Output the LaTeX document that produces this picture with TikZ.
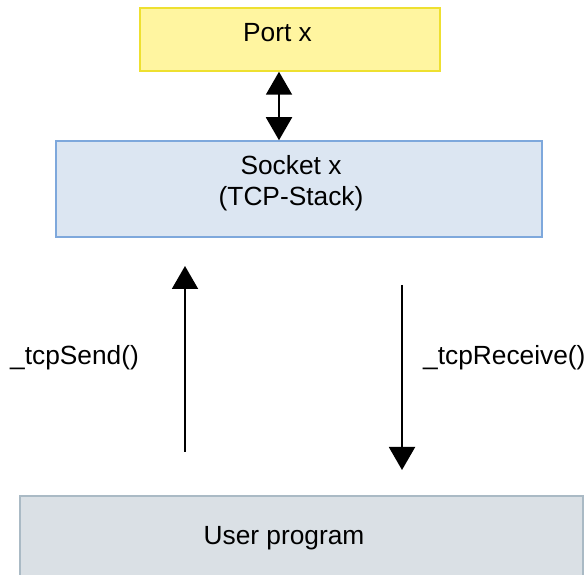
\documentclass[tikz,border=0pt]{standalone}
\usepackage{fontspec}
\setmainfont{Liberation Sans}
\usetikzlibrary{arrows.meta}
\definecolor{portfill}{HTML}{FFF5A0}
\definecolor{portline}{HTML}{EEE030}
\definecolor{sockfill}{HTML}{DCE6F2}
\definecolor{sockline}{HTML}{7EA8DC}
\definecolor{userfill}{HTML}{DAE0E5}
\definecolor{userline}{HTML}{AABAC5}
\begin{document}
\begin{tikzpicture}[x=1pt,y=1pt,
  font=\fontsize{26.3}{30}\selectfont,
  box/.style={draw, line width=1.5pt, inner sep=0pt},
  txt/.style={anchor=base, inner sep=0pt},
  flow/.style={line width=2pt, -{Triangle[width=26pt,length=23pt]}}]

\useasboundingbox (0,0) rectangle (587,575);

\node[box, fill=portfill, draw=portline, minimum width=300, minimum height=63] (port) at (290,535.5) {};
\node[txt] (porttext) at (277.5,533) {Port x};

\node[box, fill=sockfill, draw=sockline, minimum width=486, minimum height=96] (socket) at (299,386) {};
\node[txt] (sockettext) at (291,400) {Socket x};
\node[txt] (stacktext) at (291,369) {(TCP-Stack)};

\node[box, fill=userfill, draw=userline, minimum width=563, minimum height=100] (user) at (301.5,29) {};
\node[txt] (usertext) at (284,30) {User program};

\draw[flow, {Triangle[width=26pt,length=23pt]}-{Triangle[width=26pt,length=23pt]}] (port.south -| 279,0) -- (socket.north -| 279,0);

\coordinate (sendfrom) at (185,123);
\coordinate (sendto) at (185,309);
\coordinate (recvfrom) at (402,290);
\coordinate (recvto) at (402,105);

\draw[flow] (sendfrom) -- (sendto);
\draw[flow] (recvfrom) -- (recvto);

\node[anchor=base west, inner sep=0pt] (send) at (10,210) {\_tcpSend()};
\node[anchor=base west, inner sep=0pt] (recv) at (423,210) {\_tcpReceive()};

\end{tikzpicture}
\end{document}
